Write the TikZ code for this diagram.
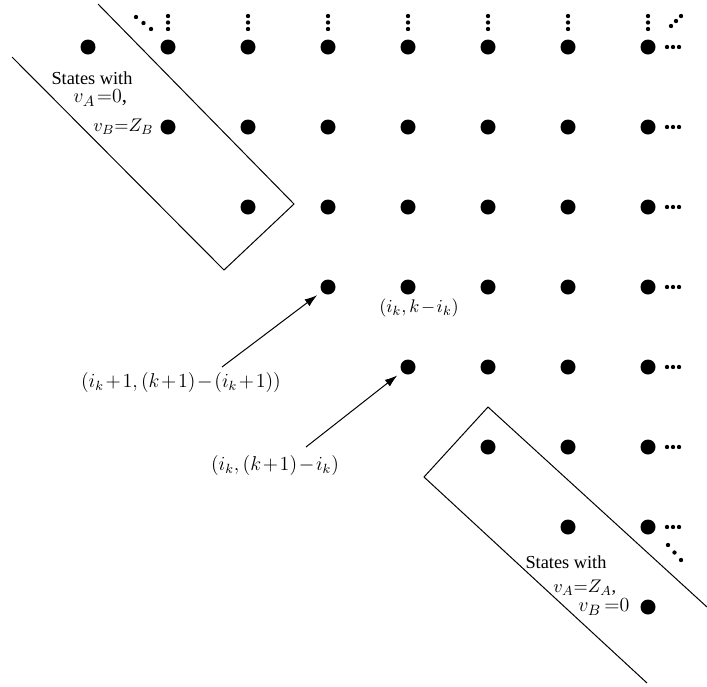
\documentclass[tikz,border=0pt]{standalone}
\usepackage{amsmath}
\usepackage{fontspec}
\setmainfont{Liberation Serif}
\usetikzlibrary{arrows.meta}
\tikzstyle{arrow} = [line width=0.6pt,-{Latex[length=7.5pt,width=5pt]},shorten >=3.5pt]
\tikzstyle{state} = [circle,fill=black,inner sep=0pt,minimum size=9pt]
\tikzstyle{frame} = [line width=0.6pt]
\tikzstyle{tight} = [inner sep=0pt,execute at begin node={\thickmuskip=1.5mu\medmuskip=1.5mu}]
\tikzstyle{caption} = [tight,font=\fontsize{11}{13}\selectfont]
\tikzstyle{pair} = [tight,font=\fontsize{11.5}{13}\selectfont]

\begin{document}
\begin{tikzpicture}[x=0.6pt,y=-0.6pt]
	\useasboundingbox (0,0) rectangle (707,686);
	\begin{scope}

	% define constants
	\def \pitch {80}
	\def \ox {88}
	\def \oy {47}

	% Draw the states
	\foreach \r in {0,...,7}
		\foreach \c in {\r,...,7}
			\node[state] (d-\r-\c) at (\ox+\pitch*\c,\oy+\pitch*\r) {};

	% dots that go on
	\foreach \r in {0,...,6}
		\foreach \k in {0,1,2}
			\fill (667+6*\k,\oy+\pitch*\r) circle (1.3pt);
	\foreach \c in {1,...,7}
		\foreach \k in {0,1,2}
			\fill (\ox+\pitch*\c,16+6.5*\k) circle (1.3pt);
	\foreach \k in {0,1,2} {
		\fill (136+7.5*\k,17+6*\k) circle (1.3pt);
		\fill (671+5*\k,26-5*\k) circle (1.3pt);
		\fill (668+6.5*\k,545+7.5*\k) circle (1.3pt);
	}

	% Draw the boxes
	\draw[frame] (98,4) -- (294,204) -- (224,270) -- (12,57);
	\draw[frame] (707,607) -- (488,407) -- (424,477) -- (647,683);

	\node[caption] (tl1) at (92,78) {States with};
	\node[caption,anchor=west,font=\fontsize{12.5}{14}\selectfont] (tl2) at (73,98) {$v_A\;{=}0$,};
	\node[caption,anchor=west] (tl3) at (93,127) {$v_B{=}Z_B$};

	\node[caption] (br1) at (566,562) {States with};
	\node[caption,anchor=west] (br2) at (553,588) {$v_A{=}Z_A$,};
	\node[caption,anchor=west,font=\fontsize{12.5}{14}\selectfont] (br3) at (578,607) {$v_B\,{=}0$};

	% the states reached
	\node[pair,font=\fontsize{10.8}{12}\selectfont] (cur) at (419,308) {$(i_k,k-i_k)$};
	\node[pair] (up) at (181,382) {$(i_k+1,(k+1)-(i_k+1))$};
	\node[pair] (right) at (275,465) {$(i_k,(k+1)-i_k)$};

	\coordinate (up-end) at (222,367);
	\coordinate (right-end) at (306,447);
	\draw[arrow] (up-end) -- (d-3-3);
	\draw[arrow] (right-end) -- (d-4-4);

	\end{scope}
\end{tikzpicture}
\end{document}
